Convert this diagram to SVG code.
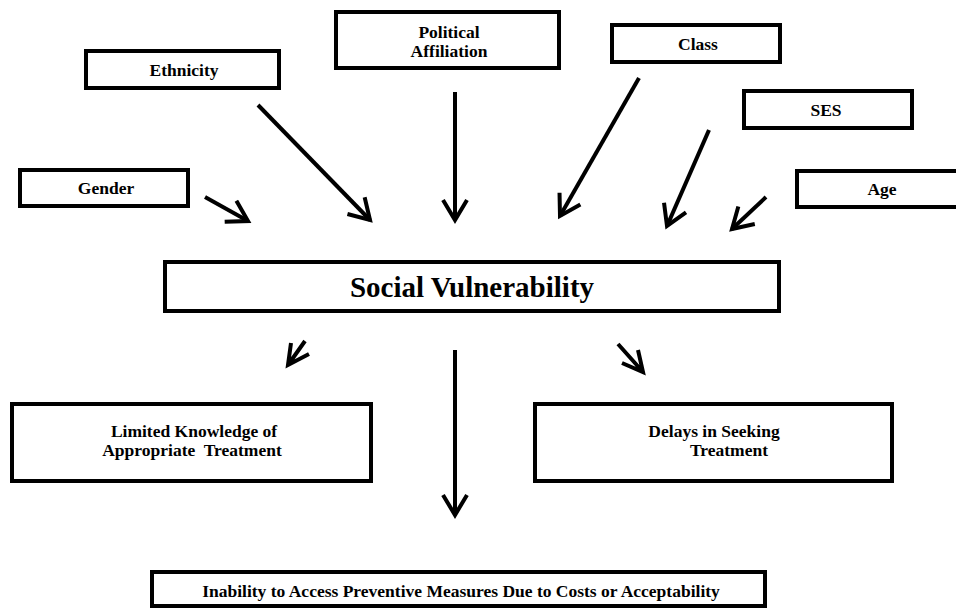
<svg xmlns="http://www.w3.org/2000/svg" width="956" height="608" viewBox="0 0 956 608">
<style>
.box{fill:#fff;stroke:#000;stroke-width:4}
.t{font-family:'Liberation Serif','DejaVu Serif','Times New Roman',serif;font-weight:700;font-size:17.5px;text-anchor:middle;fill:#000}
.big{font-size:29px}
.c{fill:none;stroke:#000;stroke-width:4;stroke-linecap:butt;stroke-linejoin:miter}
</style>
<defs>
<marker id="ah" markerUnits="userSpaceOnUse" viewBox="-24 -14 28 28" refX="0" refY="0" markerWidth="28" markerHeight="28" orient="auto">
<path d="M-20,-12 L0,0 L-20,12" fill="none" stroke="#000" stroke-width="4"/>
</marker>
</defs>
<rect width="956" height="608" fill="#fff"/>
<g id="connectors">
<line class="c" x1="205" y1="197" x2="248" y2="221" marker-end="url(#ah)"/>
<line class="c" x1="258" y1="105" x2="370" y2="220" marker-end="url(#ah)"/>
<line class="c" x1="455" y1="92" x2="455" y2="220" marker-end="url(#ah)"/>
<line class="c" x1="639" y1="78" x2="560" y2="216" marker-end="url(#ah)"/>
<line class="c" x1="709" y1="130" x2="667" y2="226" marker-end="url(#ah)"/>
<line class="c" x1="766" y1="197" x2="732" y2="229" marker-end="url(#ah)"/>
<path class="c" d="M305,341 L288,365 M291,343 L288,365 L309,354"/>
<line class="c" x1="455" y1="350" x2="455" y2="515" marker-end="url(#ah)"/>
<path class="c" d="M618,344 L643,372 M638,350 L643,372 L622,363"/>
</g>
<g id="political"><rect class="box" x="336" y="12" width="223" height="56"/><text class="t" x="449" y="38">Political</text><text class="t" x="449" y="57">Affiliation</text></g>
<g id="ethnicity"><rect class="box" x="86" y="51" width="193" height="37"/><text class="t" x="184" y="76">Ethnicity</text></g>
<g id="class"><rect class="box" x="612" y="25" width="168" height="37"/><text class="t" x="698" y="50">Class</text></g>
<g id="ses"><rect class="box" x="744" y="91" width="168" height="37"/><text class="t" x="826" y="116">SES</text></g>
<g id="gender"><rect class="box" x="20" y="170" width="168" height="36"/><text class="t" x="106" y="194">Gender</text></g>
<g id="age"><rect class="box" x="797" y="171" width="165" height="36"/><text class="t" x="882" y="195">Age</text></g>
<g id="social"><rect class="box" x="165" y="262" width="614" height="49"/><text class="t big" x="472" y="297">Social Vulnerability</text></g>
<g id="limited"><rect class="box" x="12" y="404" width="359" height="77"/><text class="t" x="194" y="437">Limited Knowledge of</text><text class="t" x="192" y="456" xml:space="preserve">Appropriate  Treatment</text></g>
<g id="delays"><rect class="box" x="535" y="404" width="357" height="77"/><text class="t" x="714" y="437">Delays in Seeking</text><text class="t" x="729" y="456">Treatment</text></g>
<g id="inability"><rect class="box" x="152" y="572" width="613" height="34"/><text class="t" x="461" y="597">Inability to Access Preventive Measures Due to Costs or Acceptability</text></g>
</svg>
